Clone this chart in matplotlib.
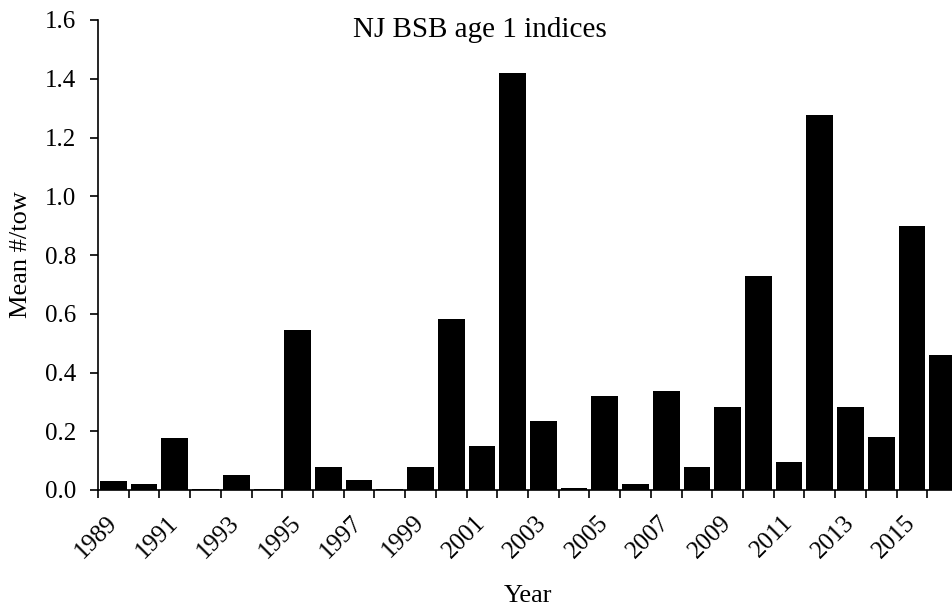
import matplotlib
matplotlib.use("Agg")
import matplotlib.pyplot as plt
import numpy as np

years = list(range(1989, 2017))
values = [0.030, 0.022, 0.177, 0.003, 0.050, 0.003, 0.545, 0.077, 0.035, 0.003,
          0.078, 0.583, 0.150, 1.418, 0.235, 0.007, 0.320, 0.020, 0.338, 0.080,
          0.283, 0.728, 0.095, 1.275, 0.283, 0.182, 0.900, 0.458]
yticks = [0.0, 0.2, 0.4, 0.6, 0.8, 1.0, 1.2, 1.4, 1.6]

plt.rcParams['font.family'] = ['Liberation Serif', 'DejaVu Serif']
fig = plt.figure(figsize=(9.53, 6.06), dpi=100)
ax = fig.add_axes([98/953, 116/606, 860/953, 470/606])
x = np.arange(len(years))
ax.bar(x, values, width=0.87, color='black')
ax.set_xlim(-0.5, len(years) - 0.5)
ax.set_ylim(0, 1.6)
ax.set_yticks(yticks)
ax.set_yticklabels([f"{t:.1f}" for t in yticks], fontsize=18)
ax.set_xticks(x[::2])
ax.set_xticklabels([str(y) for y in years[::2]], rotation=45, ha='right', va='center',
                   rotation_mode='anchor', fontsize=18)
ax.set_xticks(np.arange(-0.5, len(years), 1), minor=True)
ax.tick_params(axis='x', which='major', length=0, pad=21)
ax.tick_params(axis='x', which='minor', length=6, width=1.2, direction='out')
ax.tick_params(axis='y', length=6, width=1.2, direction='out', pad=10)
for s in ['top', 'right']:
    ax.spines[s].set_visible(False)
for s in ['left', 'bottom']:
    ax.spines[s].set_linewidth(1.2)
ax.set_ylabel('Mean #/tow', fontsize=19, labelpad=9)
ax.set_xlabel('Year', fontsize=19, labelpad=16)
fig.text(480/953, 1 - 37/606, 'NJ BSB age 1 indices', ha='center', va='baseline', fontsize=21)
fig.savefig('out.png', dpi=100)
